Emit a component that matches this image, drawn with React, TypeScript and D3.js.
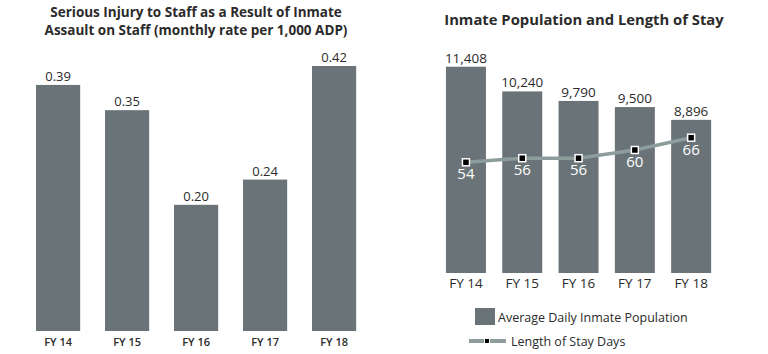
import React from "react";
import * as d3 from "d3";

// left chart data
const years = ["FY 14", "FY 15", "FY 16", "FY 17", "FY 18"];
const injuryRate = [0.39, 0.35, 0.2, 0.24, 0.42];
const injuryLabels = ["0.39", "0.35", "0.20", "0.24", "0.42"];

// right chart data
const population = [11408, 10240, 9790, 9500, 8896];
const stayDays = [54, 56, 56, 60, 66];

const barColor = "#6a7378";
const lineColor = "#8c9d9b";
const textColor = "#2b2b2b";
const font = "'Open Sans', 'Noto Sans', sans-serif";

const App = () => {
  const width = 768;
  const height = 354;

  // Left chart scales
  const xL = d3.scaleBand().domain(years).range([23.6, 368.6]).paddingInner(0.36).paddingOuter(0.18);
  const yL = d3.scaleLinear().domain([0, 0.42]).range([331, 66]);

  // Right chart scales
  const xR = d3.scaleBand().domain(years).range([437.8, 719.3]).paddingInner(0.29).paddingOuter(0.145);
  const yR = d3.scaleLinear().domain([1651, 11206]).range([273, 71]);
  const yS = d3.scaleLinear().domain([0, 100]).range([273, 68]);
  const fmt = d3.format(",");

  const line = d3
    .line<number>()
    .x((d, i) => xR(years[i])! + xR.bandwidth() / 2)
    .y((d) => yS(d));

  return (
    <div style={{ position: "absolute", left: 0, top: 0, width, height }}>
      <svg width={width} height={height} style={{ display: "block", background: "#fff" }} fontFamily={font}>
        {/* Left title */}
        <text x={196} y={17} textAnchor="middle" fontSize={13.5} fontWeight={700} fill={textColor}>
          Serious Injury to Staff as a Result of Inmate
        </text>
        <text x={196} y={35} textAnchor="middle" fontSize={13.5} fontWeight={700} fill={textColor}>
          Assault on Staff (monthly rate per 1,000 ADP)
        </text>

        {injuryRate.map((v, i) => (
          <g key={years[i]}>
            <rect x={xL(years[i])} y={yL(v)} width={xL.bandwidth()} height={yL(0) - yL(v)} fill={barColor} />
            <text
              x={xL(years[i])! + xL.bandwidth() / 2}
              y={yL(v) - 4}
              textAnchor="middle"
              fontSize={13}
              fill={textColor}
            >
              {injuryLabels[i]}
            </text>
            <text
              x={xL(years[i])! + xL.bandwidth() / 2}
              y={346}
              textAnchor="middle"
              fontSize={11}
              fontWeight={600}
              fill={textColor}
            >
              {years[i]}
            </text>
          </g>
        ))}

        {/* Right title */}
        <text x={584} y={25} textAnchor="middle" fontSize={14.8} fontWeight={700} fill={textColor}>
          Inmate Population and Length of Stay
        </text>

        {population.map((v, i) => (
          <g key={years[i]}>
            <rect x={xR(years[i])} y={yR(v)} width={xR.bandwidth()} height={yR(1651) - yR(v)} fill={barColor} />
            <text
              x={xR(years[i])! + xR.bandwidth() / 2}
              y={yR(v) - 4}
              textAnchor="middle"
              fontSize={13.5}
              fill={textColor}
            >
              {fmt(v)}
            </text>
            <text x={xR(years[i])! + xR.bandwidth() / 2} y={288} textAnchor="middle" fontSize={13.5} fill={textColor}>
              {years[i]}
            </text>
          </g>
        ))}

        <path d={line(stayDays) ?? ""} fill="none" stroke={lineColor} strokeWidth={3.5} />
        {stayDays.map((v, i) => {
          const cx = xR(years[i])! + xR.bandwidth() / 2;
          const cy = yS(v);
          return (
            <g key={"s" + i}>
              <rect x={cx - 3.5} y={cy - 3.5} width={7} height={7} fill="#000" stroke="#fff" strokeWidth={1.5} />
              <text x={cx} y={cy + 17} textAnchor="middle" fontSize={15} fill="#fff">
                {v}
              </text>
            </g>
          );
        })}

        {/* Legend */}
        <rect x={475} y={308} width={20} height={17} fill={barColor} />
        <text x={498} y={322} fontSize={12.5} fill={textColor}>
          Average Daily Inmate Population
        </text>
        <line x1={469} x2={506} y1={341} y2={341} stroke={lineColor} strokeWidth={4} />
        <rect x={484.5} y={338.5} width={5} height={5} fill="#000" stroke="#fff" strokeWidth={1} />
        <text x={511} y={346} fontSize={12.5} fill={textColor}>
          Length of Stay Days
        </text>
      </svg>
    </div>
  );
};

export default App;
